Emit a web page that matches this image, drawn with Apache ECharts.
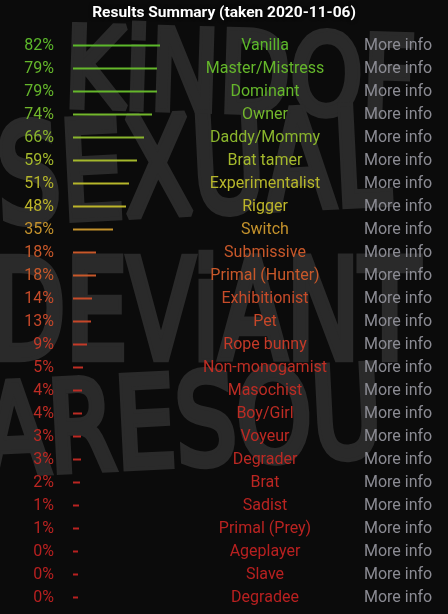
<!DOCTYPE html>
<html><head><meta charset="utf-8">
<script src="https://cdn.jsdelivr.net/npm/echarts@6/dist/echarts.min.js"></script>
<style>html,body{margin:0;padding:0;background:#0b0b0b;} #c{width:448px;height:614px;}</style>
</head><body><div id="c"></div>
<script>
const titleText = 'Results Summary (taken 2020-11-06)';
const categories = ['Vanilla','Master/Mistress','Dominant','Owner','Daddy/Mommy','Brat tamer','Experimentalist','Rigger','Switch','Submissive','Primal (Hunter)','Exhibitionist','Pet','Rope bunny','Non-monogamist','Masochist','Boy/Girl','Voyeur','Degrader','Brat','Sadist','Primal (Prey)','Ageplayer','Slave','Degradee'];
const values = [82,79,79,74,66,59,51,48,35,18,18,14,13,9,5,4,4,3,3,2,1,1,0,0,0];
const linkLabel = 'More info';

// style: colour stops by percentage
const colorStops = [
  [0, [184,32,32]], [9, [196,58,40]], [18, [200,88,42]], [35, [196,146,44]],
  [48, [189,181,42]], [59, [164,184,44]], [66, [138,181,45]], [82, [92,184,43]]
];
function colorFor(v) {
  for (let i = 1; i < colorStops.length; i++) {
    const [v1, c1] = colorStops[i];
    const [v0, c0] = colorStops[i-1];
    if (v <= v1) {
      const t = (v - v0) / (v1 - v0);
      const c = c0.map((x, k) => Math.round(x + (c1[k] - x) * t));
      return 'rgb(' + c.join(',') + ')';
    }
  }
  const c = colorStops[colorStops.length-1][1];
  return 'rgb(' + c.join(',') + ')';
}
const colorByName = name => colorFor(values[categories.indexOf(name)]);

const chart = echarts.init(document.getElementById('c'), null, {renderer: 'canvas'});
const font = 'Roboto';
const catAxisBase = {
  type: 'category', data: categories, inverse: true,
  axisLine: {show: false}, axisTick: {show: false}, splitLine: {show: false}
};
const graffiti = (text, x, y, size, rot, sy) => ({
  type: 'text', x: x, y: y, rotation: rot, scaleY: sy, z: -10, silent: true,
  style: {text: text, font: size + 'px "DejaVu Sans"', fill: '#2a2a2a',
    stroke: '#2a2a2a', lineWidth: 6, lineJoin: 'round'}
});
chart.setOption({
  backgroundColor: '#0b0b0b',
  animation: false,
  title: {
    text: titleText, left: 'center', top: 0,
    textStyle: {color: '#ffffff', fontWeight: 'bold', fontSize: 15.5, fontFamily: font,
      textShadowColor: '#000', textShadowBlur: 4}
  },
  graphic: [
    graffiti('KiNDOF', 66, 22, 92, -0.03, 1.2),
    graffiti('SEXUAL', -6, 120, 100, 0.05, 1.35),
    graffiti('DEViANT', -10, 254, 98, 0.0, 1.4),
    graffiti('ARESOU', -20, 380, 96, 0.05, 1.3)
  ],
  grid: {left: 73, width: 100, top: 34, height: 575, containLabel: false},
  xAxis: {type: 'value', min: -5, max: 95, startValue: -5, show: false},
  yAxis: [
    Object.assign({}, catAxisBase, {position: 'left', axisLabel: {
      interval: 0, margin: 19, align: 'right', fontFamily: font, fontSize: 16,
      color: colorByName, formatter: v => values[categories.indexOf(v)] + '%'}}),
    Object.assign({}, catAxisBase, {position: 'right', axisLabel: {
      interval: 0, margin: 92, align: 'center', fontFamily: font, fontSize: 16,
      color: colorByName}}),
    Object.assign({}, catAxisBase, {position: 'right', axisLabel: {
      interval: 0, margin: 191, align: 'left', fontFamily: font, fontSize: 16,
      color: '#8b8b93', formatter: () => linkLabel}})
  ],
  series: [{
    type: 'bar', yAxisIndex: 0, barWidth: 2,
    data: values.map(v => ({value: v, itemStyle: {color: colorFor(v)}}))
  }]
});
</script></body></html>
